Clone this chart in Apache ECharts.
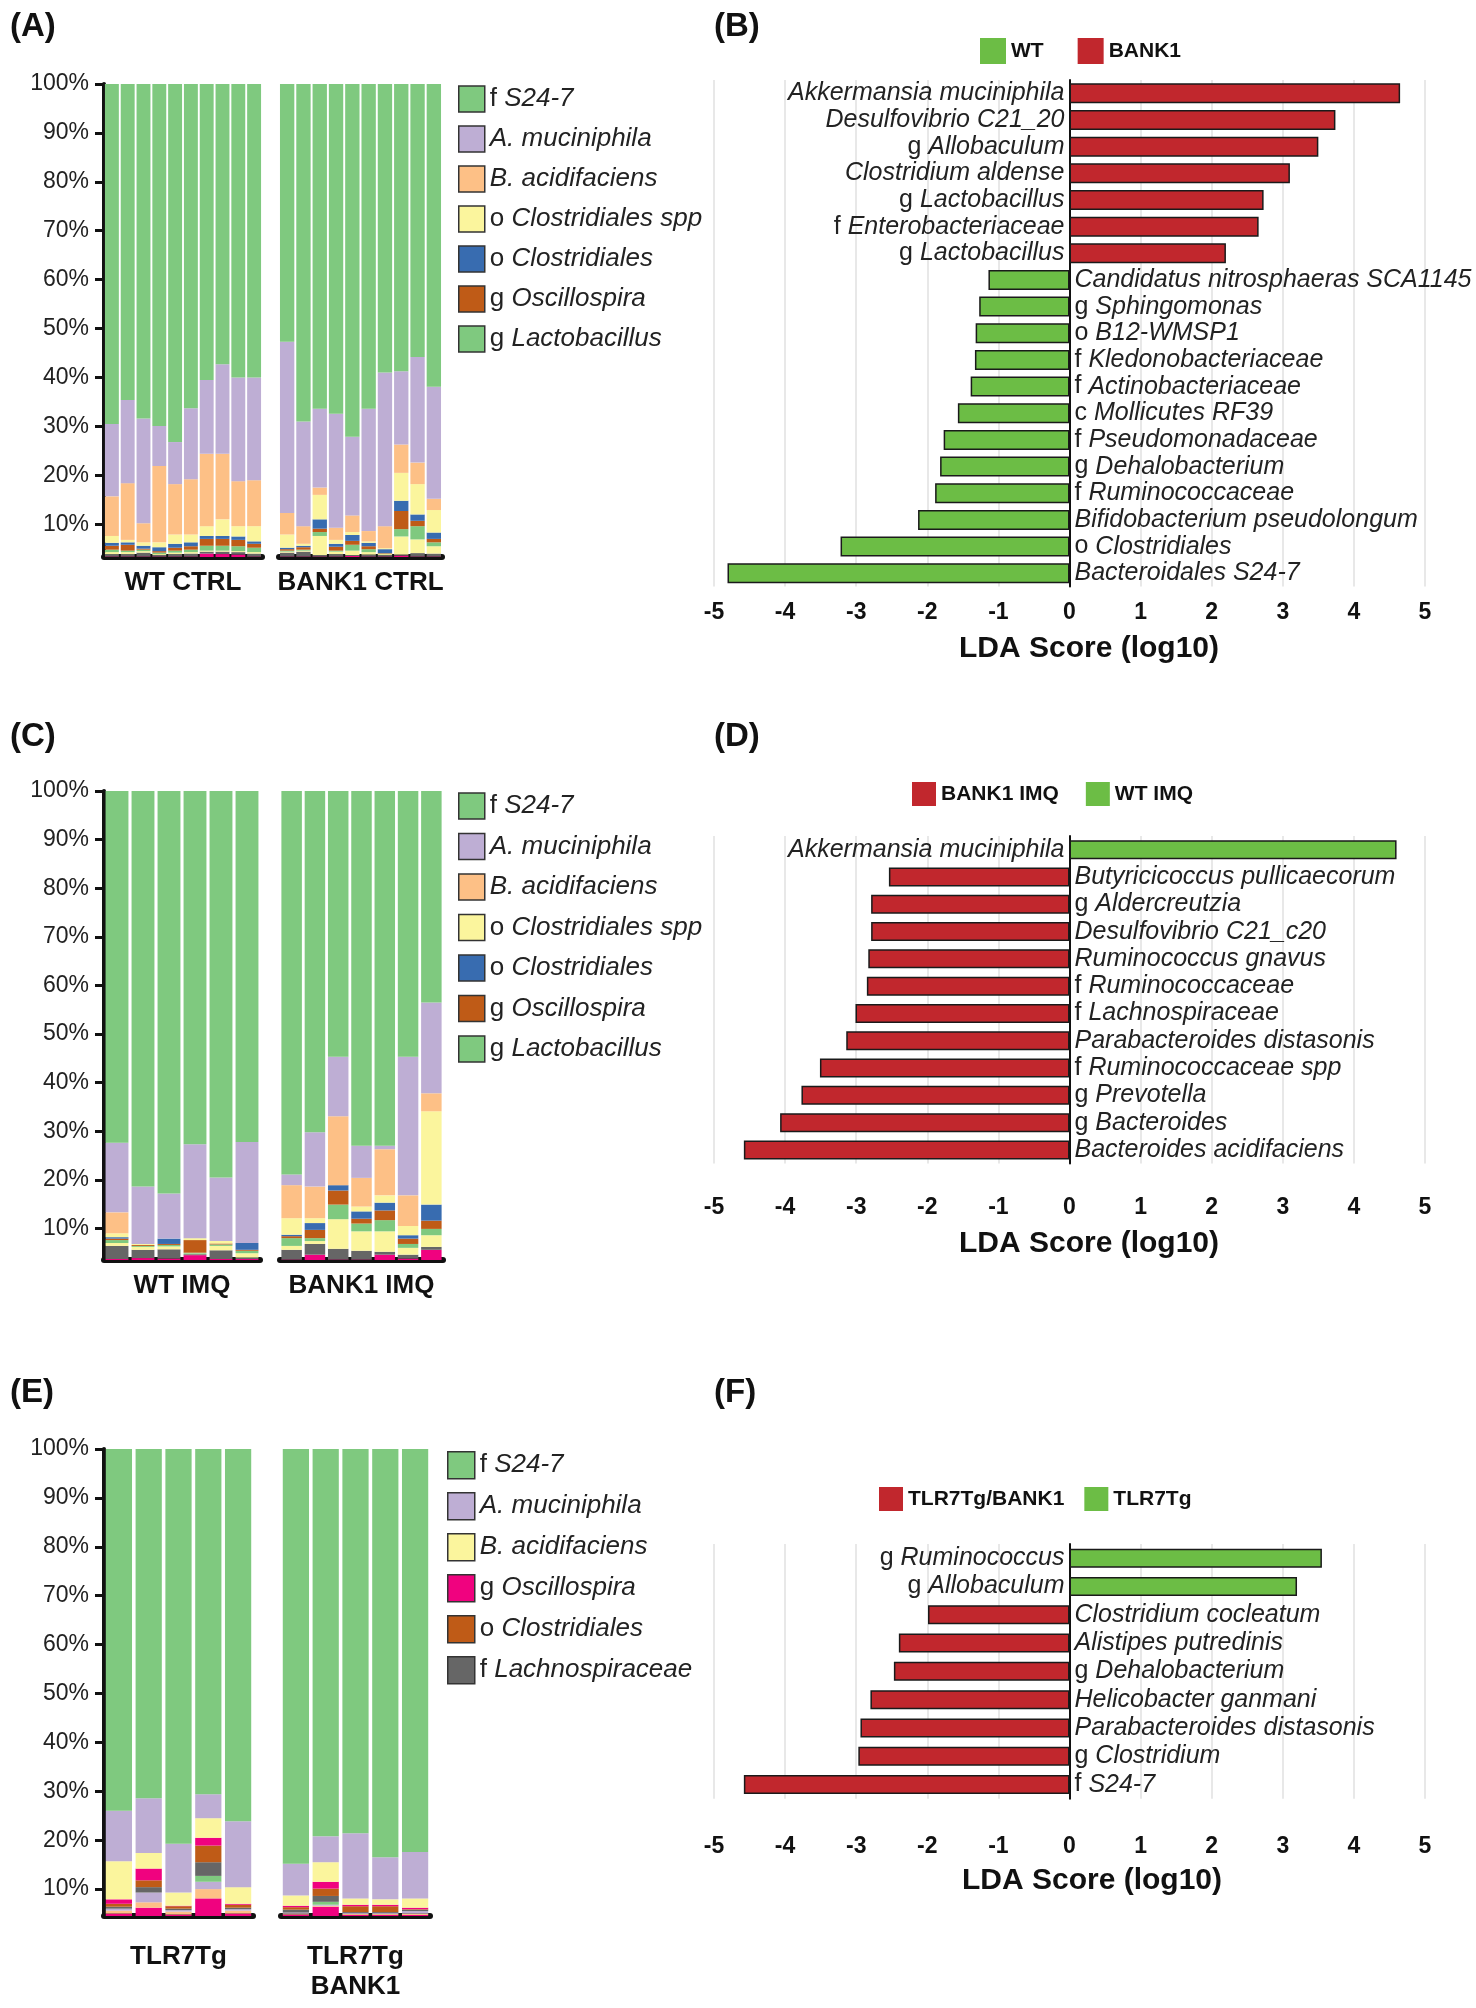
<!DOCTYPE html>
<html>
<head>
<meta charset="utf-8">
<script src="https://cdn.jsdelivr.net/npm/echarts@6/dist/echarts.min.js"></script>
<style>
  html, body { margin: 0; padding: 0; background: #fff; }
  #chart { width: 1476px; height: 2008px; }
</style>
</head>
<body>
<div id="chart"></div>
<script>
// ---------- data ----------
const yTicks = [10, 20, 30, 40, 50, 60, 70, 80, 90, 100];

// (A) WT CTRL x10, BANK1 CTRL x10 -- segment heights (%) bottom -> top
const aSamples = ['W1','W2','W3','W4','W5','W6','W7','W8','W9','W10','B1','B2','B3','B4','B5','B6','B7','B8','B9','B10'];
const aOtherPink = [3.4,3.4,3.4,3.4,3.4,3.4,4.0,3.9,3.8,3.4, 3.4,3.4,3.4,3.4,3.5,3.4,3.4,3.6,3.4,3.4];
const aOtherGray = [0.5,0.5,0.8,0.3,0.5,0.6,0.4,0.5,0.5,0.6, 0.8,1.0,0.3,0.5,0.2,0.4,0.3,0.2,0.7,0.6];
const aSppLow    = [0.4,0.4,0.3,0.2,0.3,0.3,0.2,0.2,0.2,0.3, 0.2,0.2,3.9,0.5,0.9,0.5,0.2,3.7,2.8,1.5];
const aLacto     = [0.5,0.3,0.3,0.3,0.4,0.5,1.0,1.0,1.0,0.9, 0.2,0.2,0.8,0.2,1.2,0.6,0.1,1.5,2.7,0.8];
const aOscill    = [0.8,1.2,0.2,0.3,0.6,0.7,1.4,1.4,1.3,0.8, 0.3,0.5,0.7,0.8,0.8,0.6,0.1,3.7,1.1,0.7];
const aClostr    = [0.6,0.5,0.6,0.8,0.8,0.8,0.6,0.6,0.7,0.5, 0.3,0.3,1.9,0.6,1.2,0.7,0.8,2.1,1.3,1.3];
const aClostrSpp = [1.4,0.5,0.7,1.0,1.9,1.6,2.0,3.4,2.1,3.1, 2.7,0.4,5.0,0.8,0.6,0.3,0.2,5.7,6.2,4.6];
const aBacid     = [8.1,11.6,3.9,15.6,10.3,11.3,14.8,13.4,9.2,9.4, 4.4,3.6,1.5,2.5,3.4,2.1,4.5,5.8,4.4,2.3];
const aAmuc      = [14.8,17.0,21.4,8.2,8.6,14.5,15.1,18.3,21.2,21.0, 35.0,21.4,16.1,23.3,16.1,25.0,31.4,15.0,21.6,22.9];
const aS247      = [69.5,64.6,68.4,69.9,73.2,66.3,60.5,57.3,60.0,60.0, 52.7,69.0,66.4,67.4,72.1,66.4,59.0,58.7,55.8,61.9];

// (C) WT IMQ x6, BANK1 IMQ x7
const cSamples = ['W1','W2','W3','W4','W5','W6','B1','B2','B3','B4','B5','B6','B7'];
const cOtherPink = [3.7,3.9,3.8,4.5,3.7,3.7, 3.6,4.6,3.6,3.6,4.6,3.8,5.6];
const cOtherGray = [2.7,1.7,1.9,0.2,1.8,0.3, 2.0,2.2,2.2,1.8,0.6,0.8,0.6];
const cSppLow    = [0.6,0.6,0.6,0.1,0.9,0.9, 0.8,0.6,6.1,4.0,4.2,1.4,2.4];
const cLacto     = [0.6,0.2,0.3,0.2,0.3,0.5, 1.6,0.6,3.0,1.6,2.3,0.8,1.3];
const cOscill    = [0.3,0.2,0.2,2.6,0.2,0.2, 0.4,1.7,2.9,1.0,2.0,1.1,1.7];
const cClostr    = [0.3,0,1.1,0,0,1.4, 0.3,1.4,1.1,1.5,1.6,0.7,3.3];
const cClostrSpp = [0.8,0.2,0,0.4,0.5,0, 3.4,1.0,0,1.0,1.5,1.9,19.2];
const cBacid     = [4.3,0,0,0,0,0, 6.8,6.5,14.2,5.9,9.5,6.3,3.7];
const cAmuc      = [14.3,11.8,9.3,19.3,13.1,20.8, 2.2,11.2,12.2,6.6,0.7,28.5,18.7];
const cS247      = [72.4,81.4,82.8,72.7,79.5,72.2, 78.9,70.2,54.7,73.0,73.0,54.7,43.5];

// (E) TLR7Tg x5, TLR7Tg BANK1 x5
const eSamples = ['T1','T2','T3','T4','T5','TB1','TB2','TB3','TB4','TB5'];
const eOtherPink   = [5.0,6.2,4.8,8.1,5.0, 4.8,6.4,4.7,4.7,4.7];
const eOtherOrange = [0.6,1.1,0.6,1.9,0.6, 0.2,0.2,0.2,0.2,0.3];
const eOtherLav    = [0.4,2.0,0.3,1.5,0.3, 0.2,0.2,0.2,0.2,0.5];
const eOtherGreen  = [0,0,0,1.2,0, 0,0.6,0,0,0];
const eLachno      = [0.4,1.1,0.3,2.8,0.3, 0.6,1.2,0.2,0.2,0.3];
const eClostr      = [0.6,1.4,0.5,3.4,0.6, 0.5,1.5,1.2,1.2,0.1];
const eOscill      = [0.9,2.4,0.1,1.6,0.2, 0.3,1.4,0.3,0.3,0.3];
const eBacid       = [7.8,3.2,2.7,4.0,3.4, 2.1,4.0,1.3,1.1,1.9];
const eAmuc        = [10.3,11.2,10.0,4.9,13.5, 6.5,5.3,13.3,8.6,9.5];
const eS247        = [74.0,71.4,80.7,70.6,76.1, 84.8,79.2,78.6,83.5,82.4];

// LDA scores (log10), positive = right side
const bTaxa = ['Akkermansia muciniphila','Desulfovibrio C21_20','g Allobaculum','Clostridium aldense','g Lactobacillus',
  'f Enterobacteriaceae','g Lactobacillus ','Candidatus nitrosphaeras SCA1145','g Sphingomonas','o B12-WMSP1',
  'f Kledonobacteriaceae','f Actinobacteriaceae','c Mollicutes RF39','f Pseudomonadaceae','g Dehalobacterium',
  'f Ruminococcaceae','Bifidobacterium pseudolongum','o Clostridiales','Bacteroidales S24-7'];
const bScores = [4.65,3.74,3.50,3.10,2.73,2.66,2.20,-1.14,-1.27,-1.32,-1.33,-1.39,-1.57,-1.77,-1.82,-1.89,-2.13,-3.22,-4.81];

const dTaxa = ['Akkermansia muciniphila','Butyricicoccus pullicaecorum','g Aldercreutzia','Desulfovibrio C21_c20',
  'Ruminococcus gnavus','f Ruminococcaceae','f Lachnospiraceae','Parabacteroides distasonis','f Ruminococcaceae spp',
  'g Prevotella','g Bacteroides','Bacteroides acidifaciens'];
const dScores = [4.60,-2.54,-2.79,-2.79,-2.83,-2.85,-3.01,-3.14,-3.51,-3.77,-4.07,-4.58];

const fTaxa = ['g Ruminococcus','g Allobaculum','Clostridium cocleatum','Alistipes putredinis','g Dehalobacterium',
  'Helicobacter ganmani','Parabacteroides distasonis','g Clostridium','f S24-7'];
const fScores = [3.55,3.20,-1.99,-2.40,-2.47,-2.80,-2.94,-2.97,-4.58];

// ---------- styling ----------
const FONT = "'Liberation Sans', Arial, Helvetica, sans-serif";
const COL = {
  green: '#7fc97f', lav: '#beaed4', orange: '#fdc086', yellow: '#fbf59d',
  blue: '#386cb0', pink: '#f0027f', brown: '#bf5b17', gray: '#666666',
  ldaRed: '#c1272d', ldaGreen: '#6cbd45'
};
function richStyle(size) {
  return {
    n: { fontFamily: FONT, fontSize: size, color: '#222' },
    i: { fontFamily: FONT, fontSize: size, fontStyle: 'italic', color: '#222' }
  };
}

// "g Allobaculum" -> rank letter upright, taxon italic
function richName(s) {
  const t = s.trim();
  const m = /^([a-z]) (.*)$/.exec(t);
  return m ? '{n|' + m[1] + ' }{i|' + m[2] + '}' : '{i|' + t + '}';
}

const grid = [], xAxis = [], yAxis = [], series = [], legend = [];

function addStack(cfg) {
  cfg.groups.forEach((g, gi) => {
    const idx = grid.length;
    grid.push({ left: g.left, top: cfg.top, width: g.width, height: cfg.height });
    xAxis.push({
      gridIndex: idx, type: 'category', data: cfg.samples.slice(g.from, g.to),
      axisLine: { onZero: false, lineStyle: { color: '#111', width: 6 } },
      axisTick: { show: false }, axisLabel: { show: false },
      name: g.label, nameLocation: 'middle', nameGap: cfg.nameGap,
      nameTextStyle: { fontFamily: FONT, fontWeight: 'bold', fontSize: 26, color: '#111', lineHeight: 30 }
    });
    yAxis.push({
      gridIndex: idx, type: 'value', min: cfg.yMin, max: 100, show: gi === 0,
      splitLine: { show: false },
      axisLine: { show: true, lineStyle: { color: '#111', width: 4 } },
      axisTick: { show: true, length: 9, customValues: yTicks, lineStyle: { color: '#111', width: 3 } },
      axisLabel: { customValues: yTicks, formatter: '{value}%', fontFamily: FONT, fontSize: 23, color: '#222', margin: 15 }
    });
    cfg.layers.forEach(l => {
      series.push({
        type: 'bar', name: cfg.key + '|' + l.name, xAxisIndex: idx, yAxisIndex: idx,
        stack: cfg.key + gi, data: l.data.slice(g.from, g.to),
        barCategoryGap: '12%', itemStyle: { color: l.color }, clip: true,
        emphasis: { disabled: true }
      });
    });
  });
  legend.push({
    orient: 'vertical', left: cfg.legend.left, top: cfg.legend.top,
    itemWidth: cfg.legend.size, itemHeight: cfg.legend.size, itemGap: cfg.legend.gap,
    icon: 'rect', selectedMode: false,
    data: cfg.legendOrder.map(n => cfg.key + '|' + n),
    formatter: n => richName(n.split('|')[1]),
    itemStyle: { borderColor: '#333', borderWidth: 1.5 },
    textStyle: { fontFamily: FONT, fontSize: 26, color: '#222', lineHeight: 28, rich: richStyle(26) }
  });
}

function addLda(cfg) {
  const idx = grid.length;
  grid.push({ left: 714, width: 711, top: cfg.top, height: cfg.taxa.length * cfg.band });
  xAxis.push({
    gridIndex: idx, type: 'value', min: -5, max: 5, interval: 1,
    axisLine: { show: false }, axisTick: { show: false },
    splitLine: { show: true, lineStyle: { color: '#e8e8e8', width: 2 } },
    axisLabel: { fontFamily: FONT, fontWeight: 'bold', fontSize: 23, color: '#111', margin: cfg.margin }
  });
  yAxis.push({
    gridIndex: idx, type: 'category', inverse: true, data: cfg.taxa,
    axisLine: { show: true, onZero: true, lineStyle: { color: '#111', width: 2 } },
    axisTick: { show: false }, axisLabel: { show: false }
  });
  const mk = (name, color, keep, pos) => ({
    type: 'bar', name: name, xAxisIndex: idx, yAxisIndex: idx, stack: 'lda' + idx,
    barWidth: cfg.barWidth,
    data: cfg.scores.map(v => keep(v) ? v : '-'),
    itemStyle: { color: color, borderColor: '#1a1a1a', borderWidth: 1.5 },
    label: { show: true, position: pos, distance: 5, formatter: p => richName(p.name), rich: richStyle(25) },
    emphasis: { disabled: true }
  });
  series.push(mk(cfg.posName, cfg.posColor, v => v > 0, 'left'));
  series.push(mk(cfg.negName, cfg.negColor, v => v < 0, 'right'));
  legend.push({
    left: cfg.legend.left, top: cfg.legend.top, itemWidth: cfg.legend.size, itemHeight: cfg.legend.size,
    itemGap: cfg.legend.gap, icon: 'rect', selectedMode: false, data: cfg.legend.order,
    itemStyle: { borderWidth: 0 },
    textStyle: { fontFamily: FONT, fontWeight: 'bold', fontSize: 21, color: '#111' }
  });
}

const abLegend = ['f S24-7', 'A. muciniphila', 'B. acidifaciens', 'o Clostridiales spp', 'o Clostridiales', 'g Oscillospira', 'g Lactobacillus'];

addStack({
  key: 'A', samples: aSamples, top: 84, height: 473, yMin: 3.3, nameGap: 11,
  groups: [
    { left: 104, width: 158, from: 0, to: 10, label: 'WT CTRL' },
    { left: 279, width: 163, from: 10, to: 20, label: 'BANK1 CTRL' }
  ],
  layers: [
    { name: 'other 1', color: COL.pink, data: aOtherPink },
    { name: 'other 2', color: COL.gray, data: aOtherGray },
    { name: 'other 3', color: COL.yellow, data: aSppLow },
    { name: 'g Lactobacillus', color: COL.green, data: aLacto },
    { name: 'g Oscillospira', color: COL.brown, data: aOscill },
    { name: 'o Clostridiales', color: COL.blue, data: aClostr },
    { name: 'o Clostridiales spp', color: COL.yellow, data: aClostrSpp },
    { name: 'B. acidifaciens', color: COL.orange, data: aBacid },
    { name: 'A. muciniphila', color: COL.lav, data: aAmuc },
    { name: 'f S24-7', color: COL.green, data: aS247 }
  ],
  legendOrder: abLegend,
  legend: { left: 453, top: 80, size: 26, gap: 12 }
});

addStack({
  key: 'C', samples: cSamples, top: 791, height: 469, yMin: 3.5, nameGap: 11,
  groups: [
    { left: 104, width: 156, from: 0, to: 6, label: 'WT IMQ' },
    { left: 280, width: 163, from: 6, to: 13, label: 'BANK1 IMQ' }
  ],
  layers: [
    { name: 'other 1', color: COL.pink, data: cOtherPink },
    { name: 'other 2', color: COL.gray, data: cOtherGray },
    { name: 'other 3', color: COL.yellow, data: cSppLow },
    { name: 'g Lactobacillus', color: COL.green, data: cLacto },
    { name: 'g Oscillospira', color: COL.brown, data: cOscill },
    { name: 'o Clostridiales', color: COL.blue, data: cClostr },
    { name: 'o Clostridiales spp', color: COL.yellow, data: cClostrSpp },
    { name: 'B. acidifaciens', color: COL.orange, data: cBacid },
    { name: 'A. muciniphila', color: COL.lav, data: cAmuc },
    { name: 'f S24-7', color: COL.green, data: cS247 }
  ],
  legendOrder: abLegend,
  legend: { left: 453, top: 787, size: 26, gap: 12.5 }
});

addStack({
  key: 'E', samples: eSamples, top: 1449, height: 467, yMin: 4.5, nameGap: 26,
  groups: [
    { left: 104, width: 149, from: 0, to: 5, label: 'TLR7Tg' },
    { left: 281, width: 149, from: 5, to: 10, label: 'TLR7Tg\nBANK1' }
  ],
  layers: [
    { name: 'other 1', color: COL.pink, data: eOtherPink },
    { name: 'other 2', color: COL.orange, data: eOtherOrange },
    { name: 'other 3', color: COL.lav, data: eOtherLav },
    { name: 'other 4', color: COL.green, data: eOtherGreen },
    { name: 'f Lachnospiraceae', color: COL.gray, data: eLachno },
    { name: 'o Clostridiales', color: COL.brown, data: eClostr },
    { name: 'g Oscillospira', color: COL.pink, data: eOscill },
    { name: 'B. acidifaciens', color: COL.yellow, data: eBacid },
    { name: 'A. muciniphila', color: COL.lav, data: eAmuc },
    { name: 'f S24-7', color: COL.green, data: eS247 }
  ],
  legendOrder: ['f S24-7', 'A. muciniphila', 'B. acidifaciens', 'g Oscillospira', 'o Clostridiales', 'f Lachnospiraceae'],
  legend: { left: 442, top: 1446, size: 27, gap: 12.5 }
});

addLda({
  taxa: bTaxa, scores: bScores, top: 80, band: 26.66, barWidth: 20, margin: 15,
  posName: 'BANK1', posColor: COL.ldaRed, negName: 'WT', negColor: COL.ldaGreen,
  legend: { left: 975, top: 33, size: 26, gap: 34, order: ['WT', 'BANK1'] }
});
addLda({
  taxa: dTaxa, scores: dScores, top: 836, band: 27.3, barWidth: 19, margin: 33,
  posName: 'WT IMQ', posColor: COL.ldaGreen, negName: 'BANK1 IMQ', negColor: COL.ldaRed,
  legend: { left: 907, top: 777, size: 24, gap: 27, order: ['BANK1 IMQ', 'WT IMQ'] }
});
addLda({
  taxa: fTaxa, scores: fScores, top: 1544, band: 28.3, barWidth: 19, margin: 36,
  posName: 'TLR7Tg', posColor: COL.ldaGreen, negName: 'TLR7Tg/BANK1', negColor: COL.ldaRed,
  legend: { left: 874, top: 1482, size: 24, gap: 20, order: ['TLR7Tg/BANK1', 'TLR7Tg'] }
});

function txt(s, x, y, size, align) {
  return {
    type: 'text', x: x, y: y, silent: true,
    style: { text: s, fontFamily: FONT, fontWeight: 'bold', fontSize: size, fill: '#111',
      textAlign: align || 'left', textVerticalAlign: 'middle' }
  };
}

const graphic = [
  txt('(A)', 10, 27, 33), txt('(B)', 714, 27, 33),
  txt('(C)', 10, 737, 33), txt('(D)', 714, 737, 33),
  txt('(E)', 10, 1393, 33), txt('(F)', 714, 1393, 33),
  txt('LDA Score (log10)', 1089, 649, 30, 'center'),
  txt('LDA Score (log10)', 1089, 1244, 30, 'center'),
  txt('LDA Score (log10)', 1092, 1881, 30, 'center')
];

const chart = echarts.init(document.getElementById('chart'));
chart.setOption({
  animation: false,
  backgroundColor: '#fff',
  textStyle: { fontFamily: FONT },
  grid, xAxis, yAxis, series, legend, graphic
});
</script>
</body>
</html>
